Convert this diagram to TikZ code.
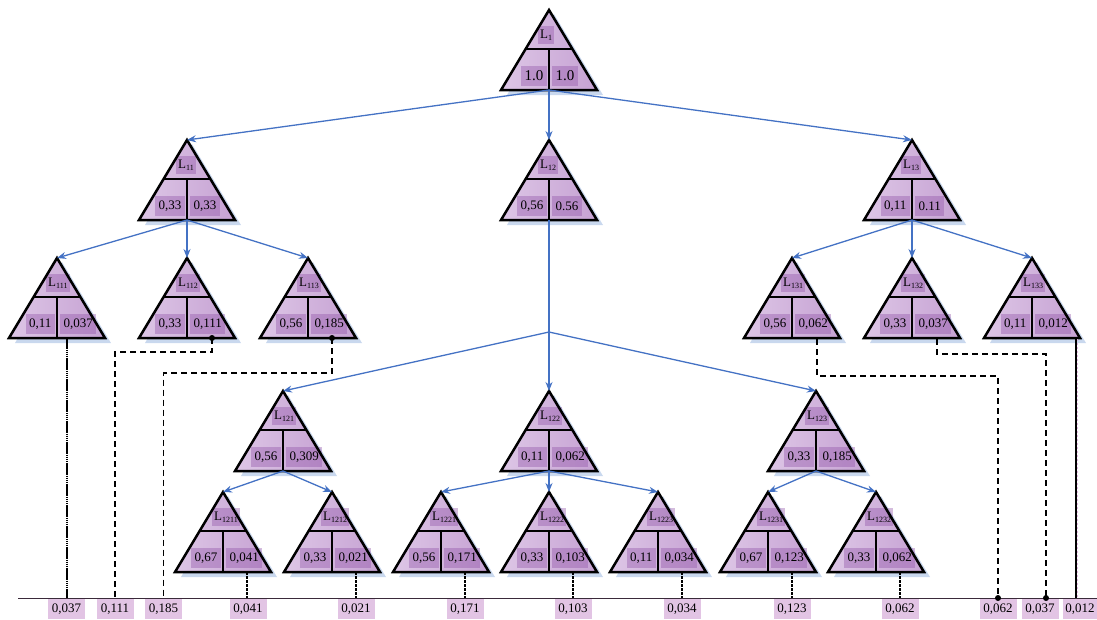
\documentclass[tikz,border=0pt]{standalone}
\usepackage{fontspec}
\setmainfont{Liberation Serif}
\usetikzlibrary{arrows.meta,calc}
\definecolor{trifillL}{HTML}{DDC6E6}
\definecolor{trifillR}{HTML}{C6A2D3}
\definecolor{boxc}{HTML}{8E4FA6}
\definecolor{shadowc}{HTML}{C9D8EE}
\definecolor{arrowc}{HTML}{4472C4}
\definecolor{botbox}{HTML}{E2C4E4}
\definecolor{axisc}{HTML}{3A2A3A}
\definecolor{pinkc}{HTML}{E2B8E0}
\tikzset{
 triline/.style={line width=2.5pt, line join=miter},
 valbox/.style={fill=boxc, fill opacity=0.38, text opacity=1, minimum height=20pt, inner xsep=3.5pt, inner ysep=0pt, font=\fontsize{13}{15}\selectfont},
 labbox/.style={fill=boxc, fill opacity=0.38, text opacity=1, minimum height=18pt, inner xsep=2pt, inner ysep=0pt, font=\fontsize{13}{15}\selectfont},
 arr/.style={draw=arrowc, line width=1.3pt, -{Stealth[length=9pt,width=7pt]}},
 conn/.style={line width=1.3pt, dash pattern=on 6pt off 4pt},
 ropeline/.style={line width=2.4pt, dash pattern=on 1.6pt off 0.5pt},
 shortconn/.style={line width=2pt, dash pattern=on 3pt off 1pt},
 botlab/.style={fill=botbox, minimum height=20pt, minimum width=37pt, inner sep=0pt, anchor=north, font=\fontsize{13}{15}\selectfont},
 dotc/.style={fill=black}
}
% name, x, y, subscript, extra width, left value, right value
\newcommand{\tri}[7]{%
\begin{scope}[shift={(#2,#3)}]
\fill[shadowc] (5,4) -- (-42,85) -- (54,85) -- cycle;
\shade[left color=trifillL, right color=trifillR] (0,0) -- (-48,80) -- (48,80) -- cycle;
\node[labbox, anchor=west] (#1-lab) at (-11,25) {L\raisebox{-1.8pt}{\fontsize{8}{9}\selectfont #4}\hspace{#5pt}};
\node[valbox, anchor=east] (#1-l) at (-2,66) {#6};
\node[valbox, anchor=west] (#1-r) at (3,66) {#7};
\draw[triline] (0,0) -- (-48,80) -- (48,80) -- cycle;
\draw[triline] (-23.4,39) -- (23.4,39) (0,39) -- (0,80);
\coordinate (#1-top) at (0,0);
\coordinate (#1-bot) at (0,80);
\coordinate (#1-rc) at (24,80);
\end{scope}}
\begin{document}
\begin{tikzpicture}[x=1pt,y=-1pt]
\useasboundingbox (0,0) rectangle (1097,619);
% axis
\coordinate (axisL) at (18,598);
\coordinate (axisR) at (1097,598);
\draw[axisc, line width=0.9pt] (axisL) -- (axisR);
% triangles
\tri{L1}{549}{10}{1}{0}{\fontsize{15}{17}\selectfont 1.0}{\fontsize{15}{17}\selectfont 1.0}
\tri{L11}{187}{140}{11}{10}{0,33}{0,33}
\tri{L12}{549}{140}{12}{8}{0,56}{0.56}
\tri{L13}{912}{140}{13}{8}{0,11}{0.11}
\tri{L111}{57}{258}{111}{9}{0,11}{0,037}
\tri{L112}{187}{258}{112}{9}{0,33}{0,111}
\tri{L113}{308}{258}{113}{9}{0,56}{0,185}
\tri{L131}{792}{258}{131}{9}{0,56}{0,062}
\tri{L132}{912}{258}{132}{9}{0,33}{0,037}
\tri{L133}{1032}{258}{133}{9}{0,11}{0,012}
\tri{L121}{283}{391}{121}{9}{0,56}{0,309}
\tri{L122}{549}{391}{122}{9}{0,11}{0,062}
\tri{L123}{816}{391}{123}{9}{0,33}{0,185}
\tri{L1211}{223}{492}{1211}{5}{0,67}{0,041}
\tri{L1212}{332}{492}{1212}{5}{0,33}{0,021}
\tri{L1221}{441}{492}{1221}{5}{0,56}{0,171}
\tri{L1222}{549}{492}{1222}{5}{0,33}{0,103}
\tri{L1223}{658}{492}{1223}{5}{0,11}{0,034}
\tri{L1231}{768}{492}{1231}{5}{0,67}{0,123}
\tri{L1232}{876}{492}{1232}{5}{0,33}{0,062}
% arrows
\draw[arr] (L1-bot) -- (L11-top);
\draw[arr] (L1-bot) -- (L12-top);
\draw[arr] (L1-bot) -- (L13-top);
\draw[arr] (L11-bot) -- (L111-top);
\draw[arr] (L11-bot) -- (L112-top);
\draw[arr] (L11-bot) -- (L113-top);
\draw[arr] (L13-bot) -- (L131-top);
\draw[arr] (L13-bot) -- (L132-top);
\draw[arr] (L13-bot) -- (L133-top);
\coordinate (j12) at (549,332);
\draw[draw=arrowc, line width=1.3pt] (L12-bot) -- (j12);
\draw[arr] (j12) -- (L121-top);
\draw[arr] (j12) -- (L122-top);
\draw[arr] (j12) -- (L123-top);
\draw[arr] (L121-bot) -- (L1211-top);
\draw[arr] (L121-bot) -- (L1212-top);
\draw[arr] (L122-bot) -- (L1221-top);
\draw[arr] (L122-bot) -- (L1222-top);
\draw[arr] (L122-bot) -- (L1223-top);
\draw[arr] (L123-bot) -- (L1231-top);
\draw[arr] (L123-bot) -- (L1232-top);
% bottom labels
\node[botlab] (b1) at (66.5,599) {0,037};
\node[botlab] (b2) at (115,599) {0,111};
\node[botlab] (b3) at (163.5,599) {0,185};
\node[botlab] (b4) at (248,599) {0,041};
\node[botlab] (b5) at (356,599) {0,021};
\node[botlab] (b6) at (465,599) {0,171};
\node[botlab] (b7) at (573,599) {0,103};
\node[botlab] (b8) at (682,599) {0,034};
\node[botlab] (b9) at (792,599) {0,123};
\node[botlab] (b10) at (900,599) {0,062};
\node[botlab] (b11) at (998,599) {0,062};
\node[botlab] (b12) at (1040,599) {0,037};
\node[botlab, minimum width=34pt] (b13) at (1080,599) {0,012};
% connectors from level 3
\coordinate (k111) at (67,339);
\draw[ropeline] (k111) -- (k111 |- axisL);
\coordinate (k112) at (212,338);
\draw[conn] (k112) -- ++(0,14) -| (b2.north);
\fill[dotc] (k112) circle (3);
\coordinate (k113) at (332,338);
\draw[conn] (k113) -- ++(0,35) -| (b3.north);
\fill[dotc] (k113) circle (3);
\coordinate (k131) at (817,339);
\draw[conn] (k131) -- ++(0,37) -| (b11.north);
\fill[dotc] (b11.north) ++(0,-1) circle (3);
\coordinate (k132) at (937,339);
\coordinate (d132) at (1046,598);
\draw[conn] (k132) -- ++(0,15) -| (d132);
\fill[dotc] (d132) circle (3);
\coordinate (k133) at (1076,339);
\draw[line width=1.8pt] (k133) -- (k133 |- axisL);
\draw[pinkc, line width=0.9pt, dash pattern=on 2pt off 2pt] ($(k133)+(1.8,0)$) -- ($(k133 |- axisL)+(1.8,0)$);
% connectors from level 5
\foreach \n in {L1211,L1212,L1221,L1222,L1223,L1231,L1232}{
  \draw[shortconn] (\n-rc) -- (\n-rc |- axisL);
}
\end{tikzpicture}
\end{document}
